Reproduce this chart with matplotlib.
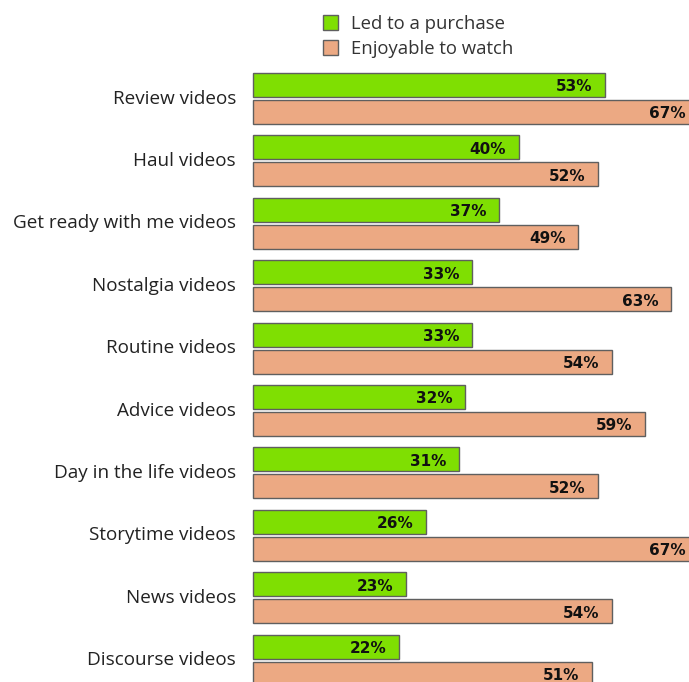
import matplotlib
matplotlib.use("Agg")
import matplotlib.pyplot as plt
from matplotlib.patches import Patch

categories = [
    "Review videos", "Haul videos", "Get ready with me videos",
    "Nostalgia videos", "Routine videos", "Advice videos",
    "Day in the life videos", "Storytime videos", "News videos",
    "Discourse videos",
]
led_to_purchase = [53, 40, 37, 33, 33, 32, 31, 26, 23, 22]
enjoyable = [67, 52, 49, 63, 54, 59, 52, 67, 54, 51]
series_names = ["Led to a purchase", "Enjoyable to watch"]

green = "#7fdf02"
peach = "#eca983"
edge = "#5f5f5f"

plt.rcParams["font.family"] = ["Open Sans", "DejaVu Sans"]
value_font = ["DejaVu Sans"]

fig = plt.figure(figsize=(6.89, 6.82), dpi=100)
ax = fig.add_axes([0, 0, 1, 1])

bar_h = 0.385
offset = 0.216
ys = list(range(len(categories)))

ax.barh([y - offset for y in ys], led_to_purchase, height=bar_h,
        color=green, edgecolor=edge, linewidth=1.0, label=series_names[0])
ax.barh([y + offset for y in ys], enjoyable, height=bar_h,
        color=peach, edgecolor=edge, linewidth=1.0, label=series_names[1])

for y, v in zip(ys, led_to_purchase):
    ax.text(v - 1.9, y - offset + 0.03, f"{v}%", ha="right", va="center",
            fontsize=11, fontweight="bold", color="#111111",
            family=value_font)
for y, v in zip(ys, enjoyable):
    ax.text(v - 1.9, y + offset + 0.03, f"{v}%", ha="right", va="center",
            fontsize=11, fontweight="bold", color="#111111",
            family=value_font)

for y, name in zip(ys, categories):
    ax.text(-2.56, y, name, ha="right", va="center", fontsize=13.6,
            color="#222222")

ax.set_xlim(-38.1, 65.66)
ax.set_ylim(9.351, -1.579)
ax.axis("off")

handles = [Patch(facecolor=green, edgecolor=edge, linewidth=1.0),
           Patch(facecolor=peach, edgecolor=edge, linewidth=1.0)]
fig.legend(handles, series_names, loc="upper left",
           bbox_to_anchor=(0.444, 1.003), frameon=False, fontsize=13.3,
           handlelength=0.85, handleheight=0.85, handletextpad=0.7,
           labelspacing=0.38, labelcolor="#333333")

fig.savefig("out.png", dpi=100)
